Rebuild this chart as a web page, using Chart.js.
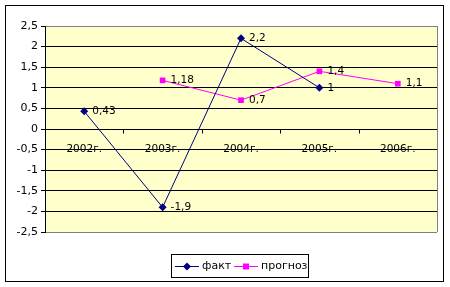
<!DOCTYPE html>
<html>
<head>
<meta charset="utf-8">
<script src="https://cdn.jsdelivr.net/npm/chart.js@4"></script>
<style>
  html, body { margin: 0; padding: 0; background: #fff; }
  #wrap { width: 450px; height: 287px; }
</style>
</head>
<body>
<div id="wrap"><canvas id="chart" width="450" height="287"></canvas></div>
<script>
// chart data
const years = ["2002г.", "2003г.", "2004г.", "2005г.", "2006г."];
const fact = [0.43, -1.9, 2.2, 1, null];
const forecast = [null, 1.18, 0.7, 1.4, 1.1];
const seriesNames = ["факт", "прогноз"];
const yTicks = [-2.5, -2, -1.5, -1, -0.5, 0, 0.5, 1, 1.5, 2, 2.5];

const FONT = "DejaVu Sans";
const fmt = v => String(v).replace(".", ",");

// yellow plot background + outer frame + right border of plot + legend
const frame = {
  id: "frame",
  beforeDraw(chart) {
    const { ctx, chartArea: a } = chart;
    ctx.save();
    ctx.fillStyle = "#fff";
    ctx.fillRect(0, 0, chart.width, chart.height);
    ctx.fillStyle = "#FFFFCC";
    ctx.fillRect(a.left, a.top, a.right - a.left, a.bottom - a.top);
    ctx.strokeStyle = "#000";
    ctx.lineWidth = 1;
    ctx.strokeRect(5.5, 5.5, 438, 276);
    ctx.restore();
  },
  afterDraw(chart) {
    const { ctx, chartArea: a } = chart;
    ctx.save();
    ctx.strokeStyle = "#808080";
    ctx.beginPath();
    ctx.moveTo(Math.round(a.right) + 0.5, a.top);
    ctx.lineTo(Math.round(a.right) + 0.5, a.bottom);
    ctx.stroke();

    // legend
    const lx = 171, ly = 254, lw = 137, lh = 23;
    ctx.fillStyle = "#fff";
    ctx.fillRect(lx, ly, lw, lh);
    ctx.strokeStyle = "#000";
    ctx.strokeRect(lx + 0.5, ly + 0.5, lw, lh);
    const cy = ly + 12.5;
    const items = [
      { x: 175, color: "#000080", shape: "diamond", text: seriesNames[0] },
      { x: 234, color: "#FF00FF", shape: "square", text: seriesNames[1] }
    ];
    items.forEach(it => {
      ctx.strokeStyle = it.color;
      ctx.beginPath();
      ctx.moveTo(it.x, cy);
      ctx.lineTo(it.x + 24, cy);
      ctx.stroke();
      ctx.fillStyle = it.color;
      const mx = it.x + 12;
      if (it.shape === "diamond") {
        ctx.beginPath();
        ctx.moveTo(mx, cy - 4);
        ctx.lineTo(mx + 4, cy);
        ctx.lineTo(mx, cy + 4);
        ctx.lineTo(mx - 4, cy);
        ctx.closePath();
        ctx.fill();
      } else {
        ctx.fillRect(mx - 3, cy - 3, 6, 6);
      }
      ctx.fillStyle = "#000";
      ctx.font = "11px '" + FONT + "'";
      ctx.textAlign = "left";
      ctx.textBaseline = "middle";
      ctx.fillText(it.text, it.x + 27, cy);
    });
    ctx.restore();
  }
};

// category labels and tick marks on the zero line
const catAxis = {
  id: "catAxis",
  beforeDatasetsDraw(chart) {
    const { ctx } = chart;
    const xs = chart.scales.x, ys = chart.scales.y;
    const y0 = Math.round(ys.getPixelForValue(0)) + 0.5;
    ctx.save();
    ctx.strokeStyle = "#000";
    ctx.lineWidth = 1;
    for (let i = 0; i < years.length - 1; i++) {
      const bx = Math.round((xs.getPixelForValue(i) + xs.getPixelForValue(i + 1)) / 2) + 0.5;
      ctx.beginPath();
      ctx.moveTo(bx, y0);
      ctx.lineTo(bx, y0 + 4);
      ctx.stroke();
    }
    ctx.fillStyle = "#000";
    ctx.font = "10.5px '" + FONT + "'";
    ctx.textAlign = "center";
    ctx.textBaseline = "middle";
    years.forEach((lab, i) => {
      ctx.fillText(lab, xs.getPixelForValue(i), y0 + 20);
    });
    ctx.restore();
  }
};

// value labels right of points
const valueLabels = {
  id: "valueLabels",
  afterDatasetsDraw(chart) {
    const { ctx } = chart;
    ctx.save();
    ctx.fillStyle = "#000";
    ctx.font = "10.5px '" + FONT + "'";
    ctx.textAlign = "left";
    ctx.textBaseline = "middle";
    chart.data.datasets.forEach((ds, di) => {
      const meta = chart.getDatasetMeta(di);
      meta.data.forEach((pt, i) => {
        const v = ds.data[i];
        if (v === null || v === undefined) return;
        ctx.fillText(fmt(v), pt.x + 8, pt.y);
      });
    });
    ctx.restore();
  }
};

new Chart(document.getElementById("chart"), {
  type: "line",
  data: {
    labels: years,
    datasets: [
      {
        label: seriesNames[0],
        data: fact,
        borderColor: "#000080",
        backgroundColor: "#000080",
        borderWidth: 1,
        pointStyle: "rectRot",
        pointRadius: 4,
        pointBorderWidth: 0,
        tension: 0
      },
      {
        label: seriesNames[1],
        data: forecast,
        borderColor: "#FF00FF",
        backgroundColor: "#FF00FF",
        borderWidth: 1,
        pointStyle: "rect",
        pointRadius: 4,
        pointBorderWidth: 0,
        tension: 0
      }
    ]
  },
  options: {
    responsive: false,
    animation: false,
    devicePixelRatio: 1,
    layout: { padding: { left: 5, top: 26, right: 13, bottom: 55 } },
    plugins: { legend: { display: false }, tooltip: { enabled: false } },
    scales: {
      x: {
        display: false,
        offset: true
      },
      y: {
        min: -2.5,
        max: 2.5,
        afterFit(scale) { scale.width = 40; },
        afterBuildTicks(scale) { scale.ticks = yTicks.map(v => ({ value: v })); },
        ticks: {
          color: "#000",
          font: { family: FONT, size: 11 },
          padding: 3,
          callback: v => fmt(v)
        },
        grid: {
          color: c => (c.tick && (c.tick.value === 2.5 || c.tick.value === -2.5)) ? "#808080" : "#000",
          lineWidth: 1,
          tickLength: 4,
          tickColor: "#000"
        },
        border: { color: "#000", width: 1 }
      }
    }
  },
  plugins: [frame, catAxis, valueLabels]
});
</script>
</body>
</html>
